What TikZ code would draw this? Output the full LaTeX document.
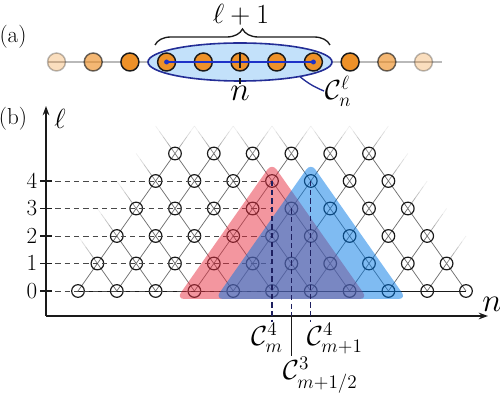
\documentclass[tikz,border=0pt]{standalone}
\usepackage{amsmath}
\usetikzlibrary{arrows.meta,positioning,calc,shapes.geometric,decorations.pathreplacing,backgrounds}
\definecolor{Ink}{HTML}{1A1A1A}
\definecolor{Grid}{HTML}{6E6E6E}
\definecolor{Navy}{HTML}{1E2060}
\definecolor{Amber}{HTML}{EE9128}
\definecolor{ClusterFill}{HTML}{C3E1FA}
\definecolor{ClusterLine}{HTML}{232D96}
\definecolor{Chain}{HTML}{1E32C8}
\definecolor{RedZone}{RGB}{231,46,64}
\definecolor{BlueZone}{RGB}{0,120,230}
\tikzset{
  site/.style={circle,draw=Ink,line width=0.9pt,minimum size=9.5pt,inner sep=0pt},
  spin/.style={circle,draw=Ink,fill=Amber,line width=1.1pt,minimum size=13.5pt,inner sep=0pt},
  bond/.style={draw=Grid,line width=0.55pt},
  guide/.style={draw=Ink!80,line width=0.6pt,dash pattern=on 4pt off 3pt},
  marker/.style={draw=Navy,line width=1pt,dash pattern=on 4pt off 2.5pt},
  axis/.style={draw=Ink,line width=1.1pt,-{Stealth[length=7pt,width=5pt]}},
  tick/.style={draw=Ink,line width=1pt},
  zone/.style={rounded corners=6pt,opacity=0.5},
  biglabel/.style={font=\huge,inner sep=0.5pt}
}
\newcommand\stub[2]{%
  \foreach \t/\o in {0/0.8,0.2/0.6,0.4/0.42,0.6/0.25,0.8/0.1}
    \draw[bond,opacity=\o] ($(#1.center)+\t*(#2,-27.5)$) -- ($(#1.center)+\t*(#2,-27.5)+0.2*(#2,-27.5)$);}

\begin{document}
\begin{tikzpicture}[x=0.75pt,y=-0.75pt]
\useasboundingbox (0,0) rectangle (500,395);
% (a) chain with the cluster
\node[font=\LARGE] (pa) at (13,37) {(a)};
\draw[gray!55,line width=0.8pt] (48,62) -- (442,62);
\node[ellipse,draw=ClusterLine,fill=ClusterFill,line width=1.2pt,minimum width=138pt,minimum height=28.5pt,inner sep=0pt] (clu) at (240,62) {};
\foreach \k/\op in {-5/0.3,-4/0.65,-3/1,-2/1,-1/1,0/1,1/1,2/1,3/1,4/0.65,5/0.3}
  \node[spin,opacity=\op] (s\k) at (240+36.7*\k,62) {};
\draw[Chain,line width=1.2pt] (s-2.center) -- (s2.center);
\fill[Chain] (s-2.center) circle (2.5) (s2.center) circle (2.5);
\node[font=\Huge,inner sep=1pt] (na) at (240,93) {$n$};
\draw[Ink,line width=0.9pt,dash pattern=on 11.5pt off 8pt] (s0.north) -- (na.north);
\node[biglabel,anchor=west] (clab) at (324,91) {$\mathcal{C}_n^{\ell}$};
\draw[ClusterLine,line width=1pt] (clu.-14) to[bend right=8] (clab.west);
\coordinate (bl) at (155,45);
\coordinate (br) at (330,45);
\draw[Ink,line width=1pt,decorate,decoration={brace,amplitude=12pt}] (bl) -- (br);
\node[font=\huge] (len) at (241,15) {$\ell+1$};

% (b) lattice of clusters
\node[font=\LARGE] (pb) at (13,119) {(b)};
\foreach \l in {0,...,5}{
  \pgfmathtruncatemacro\jmax{10-\l}
  \foreach \j in {0,...,\jmax}
    \node[site] (L\l-\j) at ({78+38.8*(\j+\l/2)},{291-27.5*\l}) {};
}
\begin{scope}[on background layer]
\foreach \l [evaluate=\l as \lo using int(\l-1)] in {1,...,5}{
  \pgfmathtruncatemacro\jmax{10-\l}
  \foreach \j [evaluate=\j as \jn using int(\j+1)] in {0,...,\jmax}
    \draw[bond] (L\lo-\j.center) -- (L\l-\j.center) -- (L\lo-\jn.center);
}
\draw[Ink,line width=0.7pt] (L0-0.center) -- (L0-10.center);
\foreach \j in {0,...,5}{\stub{L5-\j}{-19.4}\stub{L5-\j}{19.4}}
\foreach \l in {1,...,4}{
  \pgfmathtruncatemacro\jmax{10-\l}
  \stub{L\l-0}{-19.4}\stub{L\l-\jmax}{19.4}
}
\end{scope}

% axes, ticks and guides
\coordinate (O) at (46,316);
\coordinate (ltop) at (46,106);
\coordinate (nend) at (488,316);
\draw[axis] (O) -- (ltop);
\draw[axis] (O) -- (nend);
\node[font=\huge] (ell) at (60,119) {$\ell$};
\node[font=\Huge,inner sep=1pt] (nb) at (492,304) {$n$};
\foreach \l in {0,...,4}{
  \coordinate (k\l) at (O |- L\l-0);
  \draw[guide] (k\l) -- (L0-5 |- L\l-0);
  \draw[tick] ([xshift=-4.5pt]k\l) -- ([xshift=4.5pt]k\l);
  \node[font=\LARGE,left=3pt of k\l] (t\l) {$\l$};
}

% overlapping clusters
\fill[RedZone,zone] ($(L0-3)+(-18,8)$) -- ($(L0-7)+(18,8)$) -- ($(L4-3)+(0,-18)$) -- cycle;
\fill[BlueZone,zone] ($(L0-4)+(-18,8)$) -- ($(L0-8)+(18,8)$) -- ($(L4-4)+(0,-18)$) -- cycle;

% cluster markers
\node[biglabel,anchor=north] (cm) at (267,322) {$\mathcal{C}^4_m$};
\node[biglabel,anchor=north west] (cmp) at (306,322) {$\mathcal{C}^4_{m+1}$};
\node[biglabel,anchor=north west] (chalf) at (282,356) {$\mathcal{C}^3_{m+1/2}$};
\draw[marker] (L4-3.center) -- (L4-3 |- cm.north);
\draw[marker] (L4-4.center) -- (L4-4 |- cmp.north);
\draw[marker] (L3-4.center) -- (L3-4 |- O);
\draw[Ink,line width=1pt] (L3-4 |- O) -- (L3-4 |- chalf.north);
\end{tikzpicture}
\end{document}
